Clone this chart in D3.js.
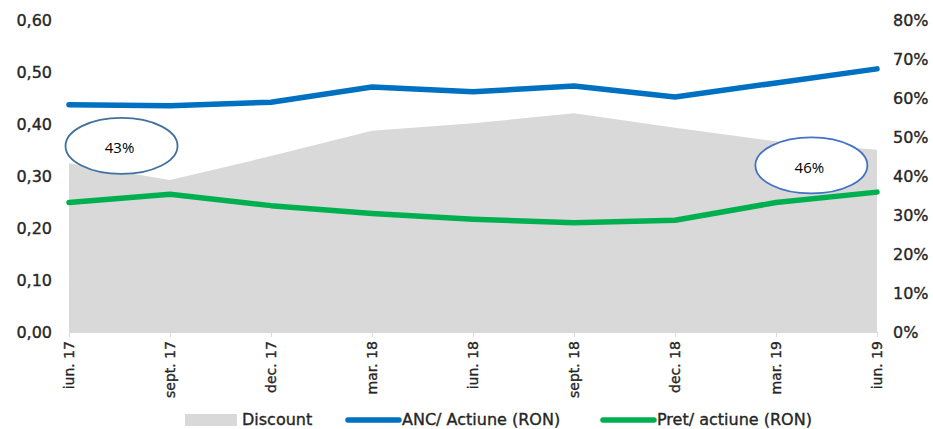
<!DOCTYPE html>
<html>
<head>
<meta charset="utf-8">
<script src="https://cdn.jsdelivr.net/npm/d3@7"></script>
<style>
  body { margin: 0; background: #fff; }
  svg text { font-family: "DejaVu Sans", sans-serif; fill: #262626; }
  svg text.heavy { stroke: #262626; stroke-width: 0.35px; }
</style>
</head>
<body>
<div id="chart"></div>
<script>
// data
const periods = ["iun. 17", "sept. 17", "dec. 17", "mar. 18", "iun. 18", "sept. 18", "dec. 18", "mar. 19", "iun. 19"];
const ancPerShare = [0.437, 0.435, 0.442, 0.471, 0.462, 0.473, 0.452, 0.479, 0.506];
const pricePerShare = [0.249, 0.265, 0.243, 0.228, 0.217, 0.210, 0.215, 0.249, 0.269];
const discount = [0.433, 0.39, 0.451, 0.516, 0.535, 0.561, 0.524, 0.489, 0.467];
const leftTicks = [0, 0.1, 0.2, 0.3, 0.4, 0.5, 0.6];
const rightTicks = [0, 0.1, 0.2, 0.3, 0.4, 0.5, 0.6, 0.7, 0.8];
const callouts = [
  { label: "43%", idx: 0.52, val: 0.477, stroke: "#41719c" },
  { label: "46%", idx: 7.35, val: 0.427, stroke: "#4472c4" }
];

const W = 933, H = 429;
const margin = { top: 20, right: 56, bottom: 97, left: 69 };
const width = W - margin.left - margin.right;
const height = H - margin.top - margin.bottom;

const svg = d3.select("#chart").append("svg")
  .attr("width", W).attr("height", H)
  .append("g")
  .attr("transform", `translate(${margin.left}, ${margin.top})`);

const x = d3.scalePoint().domain(periods).range([0, width]);
const yL = d3.scaleLinear().domain([0, 0.6]).range([height, 0]);
const yR = d3.scaleLinear().domain([0, 0.8]).range([height, 0]);

const rows = periods.map((p, i) => ({ p, anc: ancPerShare[i], price: pricePerShare[i], disc: discount[i] }));

// discount area (right axis)
svg.append("path")
  .datum(rows)
  .attr("fill", "#d9d9d9")
  .attr("d", d3.area().x(d => x(d.p)).y0(height).y1(d => yR(d.disc)));

// lines
const lineAnc = d3.line().x(d => x(d.p)).y(d => yL(d.anc));
const linePrice = d3.line().x(d => x(d.p)).y(d => yL(d.price));

svg.append("path").datum(rows)
  .attr("fill", "none").attr("stroke", "#0070c0").attr("stroke-width", 5.5)
  .attr("stroke-linejoin", "round").attr("stroke-linecap", "round")
  .attr("d", lineAnc);

svg.append("path").datum(rows)
  .attr("fill", "none").attr("stroke", "#00b050").attr("stroke-width", 5.5)
  .attr("stroke-linejoin", "round").attr("stroke-linecap", "round")
  .attr("d", linePrice);

// x axis
const xAxis = svg.append("g")
  .attr("transform", `translate(0, ${height})`)
  .call(d3.axisBottom(x).tickSize(5).tickSizeOuter(0));
xAxis.select(".domain").attr("stroke", "#d9d9d9");
xAxis.selectAll(".tick line").attr("stroke", "#d9d9d9");
xAxis.selectAll(".tick text")
  .attr("class", "heavy")
  .attr("transform", "rotate(-90)")
  .attr("text-anchor", "end")
  .attr("x", -9).attr("y", 0).attr("dy", "0.35em")
  .style("font-size", "14px");

// left axis
const leftAxis = svg.append("g")
  .call(d3.axisLeft(yL).tickValues(leftTicks).tickSize(0).tickPadding(17)
    .tickFormat(d => d3.format(".2f")(d).replace(".", ",")));
leftAxis.select(".domain").remove();
leftAxis.selectAll("text").attr("class", "heavy").style("font-size", "16px");

// right axis
const rightAxis = svg.append("g")
  .attr("transform", `translate(${width}, 0)`)
  .call(d3.axisRight(yR).tickValues(rightTicks).tickSize(0).tickPadding(16)
    .tickFormat(d3.format(".0%")));
rightAxis.select(".domain").remove();
rightAxis.selectAll("text").attr("class", "heavy").style("font-size", "16px");

// callouts
callouts.forEach(c => {
  const cx = x(periods[0]) + c.idx * x.step();
  const cy = yR(c.val);
  svg.append("ellipse")
    .attr("cx", cx).attr("cy", cy).attr("rx", 56).attr("ry", 28)
    .attr("fill", "#fff").attr("stroke", c.stroke).attr("stroke-width", 1.8);
  svg.append("text")
    .attr("x", cx - 2).attr("y", cy + 2).attr("dy", "0.35em")
    .attr("text-anchor", "middle")
    .style("font-family", "'Open Sans', sans-serif")
    .style("font-size", "15px").style("fill", "#000")
    .text(c.label);
});

// legend
const legend = svg.append("g").attr("transform", `translate(0, ${height + 87})`);
const legendItems = [
  { name: "Discount", x: 116, type: "area", color: "#d9d9d9" },
  { name: "ANC/ Actiune (RON)", x: 276, type: "line", color: "#0070c0" },
  { name: "Pret/ actiune (RON)", x: 531, type: "line", color: "#00b050" }
];
legendItems.forEach(it => {
  if (it.type === "area") {
    legend.append("rect").attr("x", it.x).attr("y", -5).attr("width", 52).attr("height", 12).attr("fill", it.color);
  } else {
    legend.append("line").attr("x1", it.x + 3).attr("x2", it.x + 54).attr("y1", 1).attr("y2", 1)
      .attr("stroke", it.color).attr("stroke-width", 5.5).attr("stroke-linecap", "round");
  }
  legend.append("text")
    .attr("class", "heavy")
    .attr("x", it.x + 57).attr("y", 0).attr("dy", "0.35em")
    .style("font-size", "16px")
    .text(it.name);
});
</script>
</body>
</html>
